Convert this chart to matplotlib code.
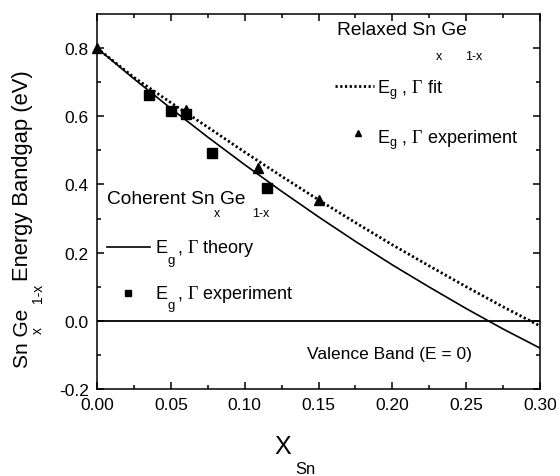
import matplotlib
matplotlib.use("Agg")
import matplotlib.pyplot as plt

plt.rcParams["font.family"] = "Liberation Sans"
plt.rcParams["mathtext.fontset"] = "custom"
plt.rcParams["mathtext.rm"] = "Liberation Serif"
plt.rcParams["mathtext.sf"] = "Liberation Sans"

# curves
x_curve = [0.0, 0.025, 0.05, 0.075, 0.10, 0.125, 0.15, 0.175, 0.20, 0.225, 0.25, 0.275, 0.30]
theory = [0.800, 0.710, 0.623, 0.539, 0.458, 0.380, 0.305, 0.233, 0.164, 0.099, 0.036, -0.024, -0.080]
fit = [0.800, 0.714, 0.640, 0.568, 0.495, 0.424, 0.355, 0.288, 0.223, 0.161, 0.100, 0.041, -0.015]

# coherent experiment (squares)
x_coh = [0.035, 0.050, 0.060, 0.078, 0.115]
y_coh = [0.662, 0.615, 0.606, 0.491, 0.391]

# relaxed experiment (triangles)
x_rel = [0.0, 0.060, 0.109, 0.150]
y_rel = [0.800, 0.618, 0.447, 0.353]

fig = plt.figure(figsize=(5.6, 4.77), dpi=100)
ax = fig.add_axes([97 / 560, 1 - 390 / 477, 443 / 560, 375 / 477])

ax.plot(x_curve, theory, color="black", lw=1.2)
ax.plot(x_curve, fit, color="black", lw=2.0, ls=(0, (0.8, 0.9)))
ax.axhline(0, color="black", lw=1.3)
ax.plot(x_coh, y_coh, "s", color="black", ms=6.5)
ax.plot(x_rel, y_rel, "^", color="black", ms=6.5, clip_on=False)

ax.set_xlim(0, 0.30)
ax.set_ylim(-0.2, 0.9)
ax.set_xticks([0.0, 0.05, 0.10, 0.15, 0.20, 0.25, 0.30])
ax.set_xticklabels(["0.00", "0.05", "0.10", "0.15", "0.20", "0.25", "0.30"])
ax.set_xticks([0.025, 0.075, 0.125, 0.175, 0.225, 0.275], minor=True)
ax.set_yticks([-0.2, 0.0, 0.2, 0.4, 0.6, 0.8])
ax.set_yticklabels(["-0.2", "0.0", "0.2", "0.4", "0.6", "0.8"])
ax.set_yticks([-0.1, 0.1, 0.3, 0.5, 0.7], minor=True)
ax.tick_params(which="both", direction="in", top=True, right=True, width=1.1, labelsize=12.5)
ax.tick_params(which="major", length=5, pad=6)
ax.tick_params(which="minor", length=3)
for s in ax.spines.values():
    s.set_linewidth(1.1)

fs = 13
fs_head = 13.8
# relaxed block
ax.text(0.1625, 0.841, "Relaxed Sn Ge", fontsize=fs_head)
ax.text(0.2296, 0.769, "x", fontsize=9)
ax.text(0.2492, 0.769, "1-x", fontsize=9)
ax.plot([0.161, 0.1876], [0.688, 0.688], color="black", lw=2.0, ls=(0, (0.8, 0.9)))
ax.text(0.1896, 0.668, r"E$_{\mathsf{g}}$ , $\Gamma$ fit", fontsize=fs)
ax.plot([0.1768], [0.55], "^", color="black", ms=5)
ax.text(0.1896, 0.521, r"E$_{\mathsf{g}}$ , $\Gamma$ experiment", fontsize=fs)

# coherent block
ax.text(0.0068, 0.347, "Coherent Sn Ge", fontsize=fs_head)
ax.text(0.0792, 0.306, "x", fontsize=9)
ax.text(0.1050, 0.306, "1-x", fontsize=9)
ax.plot([0.0068, 0.0359], [0.218, 0.218], color="black", lw=1.2)
ax.text(0.0399, 0.203, "E", fontsize=fs)
ax.text(0.0480, 0.171, "g", fontsize=9.5)
ax.text(0.0540, 0.203, r", $\Gamma$ theory", fontsize=fs)
ax.plot([0.0210], [0.082], "s", color="black", ms=5)
ax.text(0.0399, 0.068, "E", fontsize=fs)
ax.text(0.0480, 0.038, "g", fontsize=9.5)
ax.text(0.0540, 0.068, r", $\Gamma$ experiment", fontsize=fs)

ax.text(0.1422, -0.097, "Valence Band (E = 0)", fontsize=12.5, va="center")

# axis labels
fig.text(23 / 560, 1 - 281 / 477, "Energy Bandgap (eV)", rotation=90, fontsize=15.8,
         ha="center", va="bottom")
fig.text(23 / 560, 1 - 368 / 477, "Sn Ge", rotation=90, fontsize=15, ha="center", va="bottom")
fig.text(38 / 560, 1 - 334 / 477, "x", rotation=90, fontsize=10, ha="center", va="bottom")
fig.text(38 / 560, 1 - 303 / 477, "1-x", rotation=90, fontsize=10, ha="center", va="bottom")
fig.text(283 / 560, 1 - 447 / 477, "X", fontsize=18, ha="center", va="center")
fig.text(295 / 560, 1 - 470 / 477, "Sn", fontsize=12, ha="left", va="center")

fig.savefig("out.png", dpi=100)
